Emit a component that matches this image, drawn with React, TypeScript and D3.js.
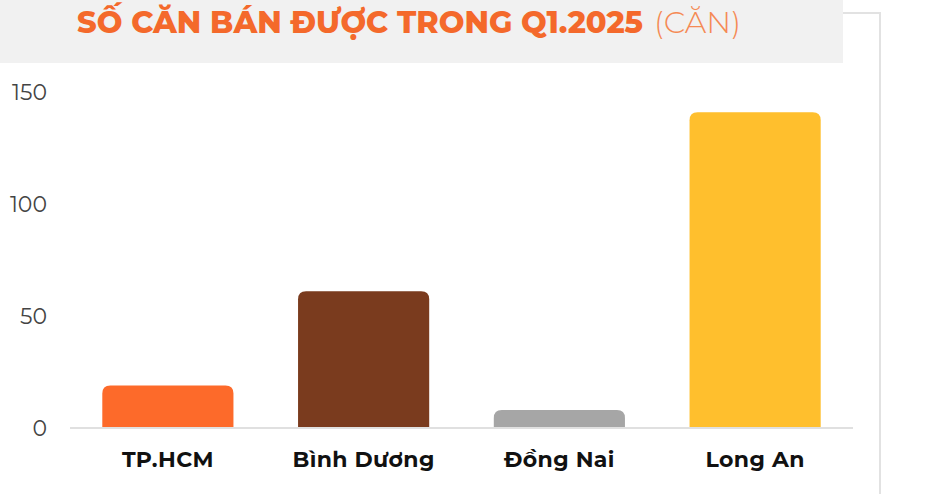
import React from "react";
import * as d3 from "d3";

const categories = ["TP.HCM", "Bình Dương", "Đồng Nai", "Long An"];
const values = [19, 61, 8, 141];
const barColors = ["#fd6a2a", "#7a3b1e", "#a6a6a6", "#ffbf2d"];
const yTicks = [0, 50, 100, 150];
const titleMain = "SỐ CĂN BÁN ĐƯỢC TRONG Q1.2025";
const titleUnit = "(CĂN)";

const W = 940;
const H = 494;
const plot = { left: 70, right: 853, top: 92, bottom: 428 };

function roundedTopBar(x: number, y: number, w: number, h: number, r: number) {
  const rr = Math.min(r, h, w / 2);
  return `M${x},${y + h}V${y + rr}Q${x},${y} ${x + rr},${y}H${x + w - rr}Q${x + w},${y} ${x + w},${y + rr}V${y + h}Z`;
}

export default function App() {
  const x = d3
    .scaleBand<string>()
    .domain(categories)
    .range([plot.left, plot.right])
    .paddingInner(0.33)
    .paddingOuter(0.165);
  const y = d3.scaleLinear().domain([0, 150]).range([plot.bottom, plot.top]);
  const font = "Montserrat, 'Open Sans', 'Noto Sans', sans-serif";

  return (
    <svg
      width={W}
      height={H}
      style={{ position: "absolute", left: 0, top: 0, background: "#fff" }}
      fontFamily={font}
    >
      <rect x={0} y={0} width={W} height={H} fill="#fff" />
      {/* frame */}
      <path d={`M843,13H880V${H}`} fill="none" stroke="#e2e2e2" strokeWidth={2} />
      {/* title band */}
      <rect x={0} y={0} width={843} height={63} fill="#f1f1f1" />
      <text x={77} y={33} fontSize={30} fontWeight={800} fill="#f4692b" textLength={566} lengthAdjust="spacingAndGlyphs">
        {titleMain}
      </text>
      <text x={654} y={33} fontSize={30} fontWeight={300} fill="#f58a55" textLength={87} lengthAdjust="spacingAndGlyphs">
        {titleUnit}
      </text>
      {/* y ticks */}
      {yTicks.map((t) => (
        <text key={t} x={47} y={y(t)} dy="0.36em" textAnchor="end" fontSize={22} fill="#444">
          {t}
        </text>
      ))}
      {/* bars */}
      {categories.map((c, i) => {
        const bx = x(c)!;
        const by = y(values[i]);
        return (
          <path
            key={c}
            d={roundedTopBar(bx, by, x.bandwidth(), plot.bottom - by, 8)}
            fill={barColors[i]}
          />
        );
      })}
      {/* baseline */}
      <line x1={plot.left} x2={plot.right} y1={plot.bottom} y2={plot.bottom} stroke="#e0e0e0" strokeWidth={2} />
      {/* x labels */}
      {categories.map((c) => (
        <text
          key={c}
          x={x(c)! + x.bandwidth() / 2}
          y={467}
          textAnchor="middle"
          fontSize={22}
          fontWeight={700}
          fill="#111"
          letterSpacing={0.4}
        >
          {c}
        </text>
      ))}
    </svg>
  );
}
